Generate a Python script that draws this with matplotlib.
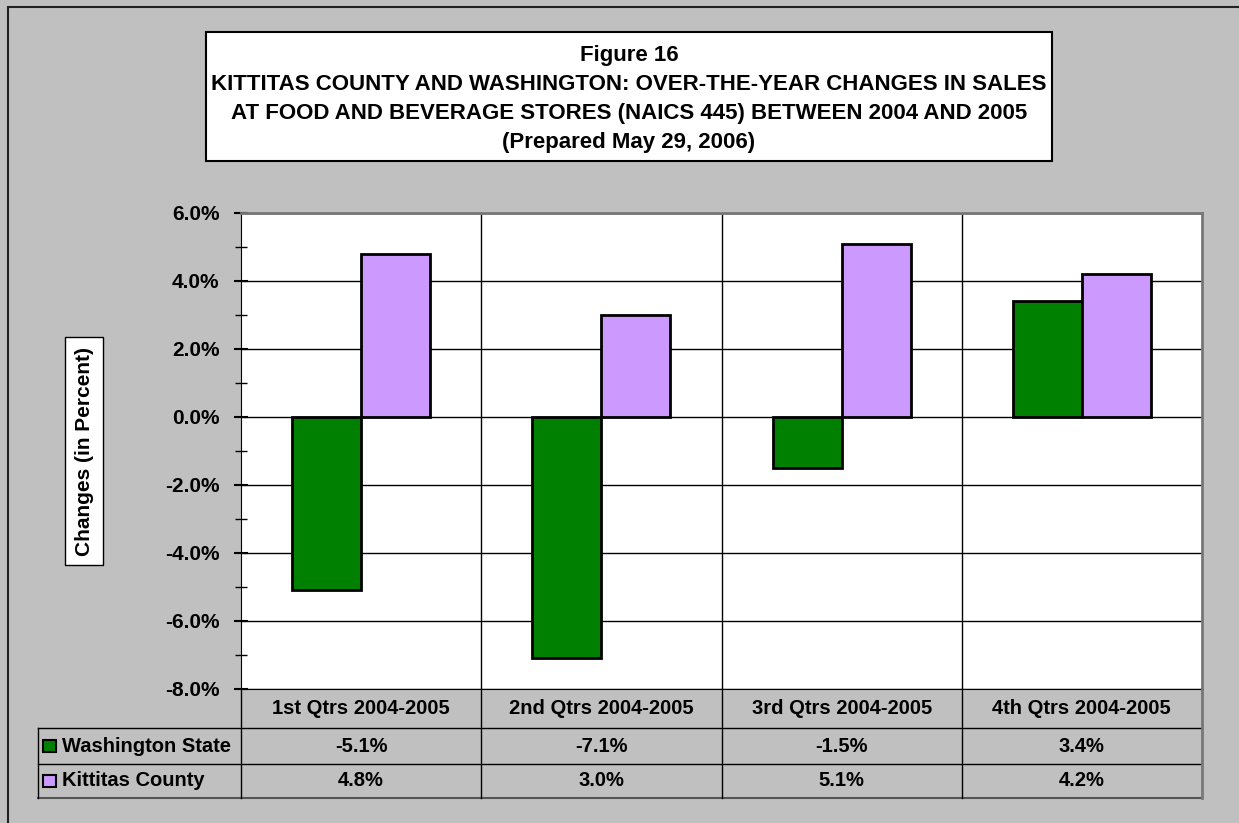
import numpy as np
import matplotlib
matplotlib.use('Agg')
import matplotlib.pyplot as plt
from matplotlib.patches import Rectangle
from matplotlib.lines import Line2D
from matplotlib.transforms import blended_transform_factory

plt.rcParams['font.family'] = ['Liberation Sans', 'DejaVu Sans']
plt.rcParams['font.weight'] = 'bold'

# data
quarters = ['1st Qtrs 2004-2005', '2nd Qtrs 2004-2005', '3rd Qtrs 2004-2005', '4th Qtrs 2004-2005']
washington = [-5.1, -7.1, -1.5, 3.4]
kittitas = [4.8, 3.0, 5.1, 4.2]
series_names = ['Washington State', 'Kittitas County']
series_colors = ['#008000', '#CC99FF']
title_lines = ['Figure 16',
               'KITTITAS COUNTY AND WASHINGTON: OVER-THE-YEAR CHANGES IN SALES',
               'AT FOOD AND BEVERAGE STORES (NAICS 445) BETWEEN 2004 AND 2005',
               '(Prepared May 29, 2006)']

W, H = 1239, 823
BG = '#C0C0C0'

def fx(px):
    return px / W

def fy(py):
    return 1 - py / H

fig = plt.figure(figsize=(W / 100, H / 100), dpi=100, facecolor=BG)

# outer chart border (only left/top visible in the crop)
fig.add_artist(Rectangle((fx(8), fy(830)), fx(1300), fy(7) - fy(830), transform=fig.transFigure,
                         facecolor='none', edgecolor='#222222', lw=1.5))

# title box
fig.add_artist(Rectangle((fx(206), fy(161)), fx(1052) - fx(206), fy(32) - fy(161),
                         transform=fig.transFigure, facecolor='white', edgecolor='black', lw=1.5))
for i, line in enumerate(title_lines):
    fig.text(fx(629), fy(61 + 29 * i), line, ha='center', va='baseline',
             fontsize=16, fontweight='bold')

# plot area
left, right, top, bottom = 241, 1202, 213, 689
ax = fig.add_axes([fx(left), fy(bottom), fx(right) - fx(left), fy(top) - fy(bottom)])
ax.set_facecolor('white')
x = np.arange(len(quarters))
w = 0.2875
ax.bar(x - w / 2, washington, w, color=series_colors[0], edgecolor='black', lw=2, zorder=3)
ax.bar(x + w / 2, kittitas, w, color=series_colors[1], edgecolor='black', lw=2, zorder=3)
ax.set_xlim(-0.5, len(quarters) - 0.5)
ax.set_ylim(-8, 6)
ax.set_yticks(np.arange(-8, 7, 2))
ax.set_yticks(np.arange(-7, 6, 2), minor=True)
ax.set_yticklabels([f'{v:.1f}%' for v in np.arange(-8, 7, 2)], fontsize=15, fontweight='bold')
ax.yaxis.grid(True, which='major', color='black', lw=1, zorder=1)
ax.set_axisbelow(True)
ax.tick_params(axis='y', which='major', direction='inout', length=10, width=1.5, pad=10.5)
ax.tick_params(axis='y', which='minor', direction='inout', length=8.5, width=1)
ax.set_xticks([])
for b in x[:-1] + 0.5:
    ax.axvline(b, color='black', lw=1, zorder=1)
ax.spines['left'].set_color('black')
ax.spines['bottom'].set_color('black')
ax.spines['top'].set_color('#777777')
ax.spines['right'].set_color('#777777')
ax.spines['top'].set_linewidth(2)
ax.spines['right'].set_linewidth(2)

# y label
fig.text(fx(84), fy(451), 'Changes (in Percent)', rotation=90, ha='center', va='center',
         fontsize=15, fontweight='bold',
         bbox=dict(boxstyle='square,pad=0.45', facecolor='white', edgecolor='black', lw=1))

# data table below the plot
tr = blended_transform_factory(ax.transData, fig.transFigure)
ff = fig.transFigure
row_y = [728, 764, 798]
for yy in row_y[:-1]:
    fig.add_artist(Line2D([fx(38), fx(right)], [fy(yy), fy(yy)], transform=ff, color='black', lw=1))
fig.add_artist(Line2D([fx(38), fx(right)], [fy(798), fy(798)], transform=ff, color='#555555', lw=1.5))
fig.add_artist(Line2D([fx(38), fx(38)], [fy(728), fy(798)], transform=ff, color='black', lw=1))
fig.add_artist(Line2D([fx(left), fx(left)], [fy(bottom), fy(798)], transform=ff, color='black', lw=1))
fig.add_artist(Line2D([fx(right), fx(right)], [fy(bottom), fy(798)], transform=ff, color='#777777', lw=2))
for b in x[:-1] + 0.5:
    fig.add_artist(Line2D([b, b], [fy(bottom), fy(798)], transform=tr, color='black', lw=1))

for xi, q in zip(x, quarters):
    fig.text(xi, fy(709), q, transform=tr, ha='center', va='center', fontsize=14.5, fontweight='bold')
for r, (name, color, vals) in enumerate(zip(series_names, series_colors, [washington, kittitas])):
    yc = 746 + 35 * r
    fig.add_artist(Rectangle((fx(43), fy(yc + 6)), fx(13), fy(0) - fy(12), transform=ff,
                             facecolor=color, edgecolor='black', lw=1.5))
    fig.text(fx(62), fy(yc), name, ha='left', va='center', fontsize=14.5, fontweight='bold')
    for xi, v in zip(x, vals):
        fig.text(xi, fy(yc), f'{v:.1f}%', transform=tr, ha='center', va='center',
                 fontsize=14.5, fontweight='bold')

fig.savefig('out.png', dpi=100, facecolor=BG)
